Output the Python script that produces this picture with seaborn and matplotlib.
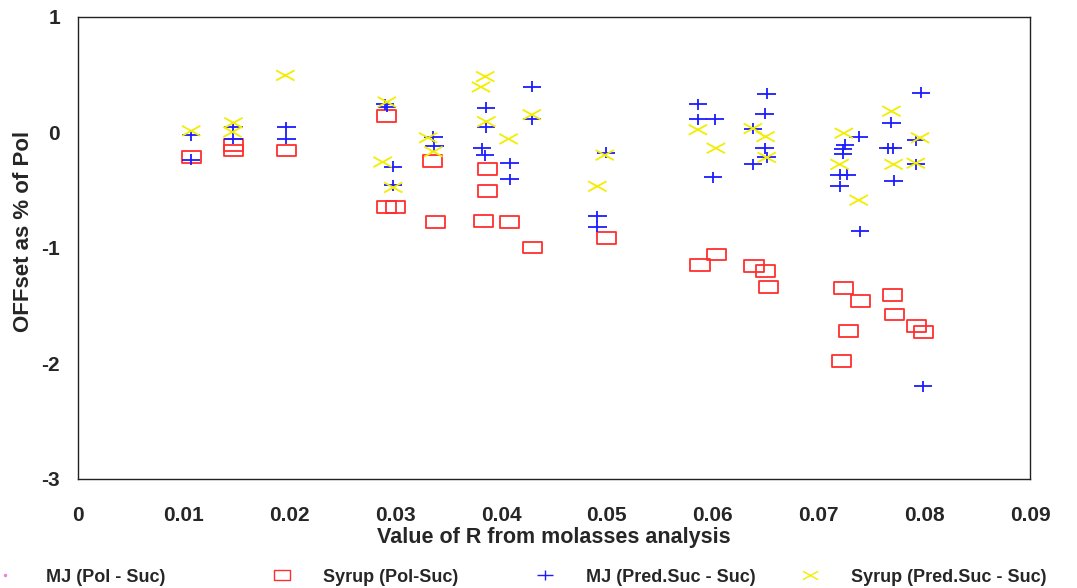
import numpy as np
import pandas as pd
import matplotlib
matplotlib.use("Agg")
import matplotlib.pyplot as plt
from matplotlib.path import Path
from matplotlib.lines import Line2D
import seaborn as sns

# ---- data: offset (% of Pol) against R from molasses analysis ----
mj_pol_x = []
mj_pol_y = []

syrup_pol_x = [0.0107, 0.0147, 0.0147, 0.0197, 0.0292, 0.0292, 0.0300, 0.0335, 0.0338,
               0.0387, 0.0387, 0.0383, 0.0408, 0.0430, 0.0500, 0.0588, 0.0604, 0.0639,
               0.0650, 0.0653, 0.0724, 0.0722, 0.0728, 0.0740, 0.0770, 0.0772, 0.0793,
               0.0799]
syrup_pol_y = [-0.22, -0.11, -0.16, -0.16, 0.14, -0.65, -0.65, -0.25, -0.78,
               -0.32, -0.51, -0.77, -0.78, -1.00, -0.92, -1.15, -1.06, -1.16,
               -1.20, -1.34, -1.35, -1.98, -1.72, -1.46, -1.41, -1.58, -1.68,
               -1.73]

mj_pred_x = [0.0107, 0.0107, 0.0147, 0.0147, 0.0197, 0.0197, 0.0292, 0.0290, 0.0298,
             0.0298, 0.0336, 0.0337, 0.0386, 0.0386, 0.0382, 0.0385, 0.0408, 0.0408,
             0.0429, 0.0429, 0.0499, 0.0491, 0.0491, 0.0586, 0.0586, 0.0602, 0.0600,
             0.0651, 0.0649, 0.0638, 0.0649, 0.0651, 0.0638, 0.0738, 0.0725, 0.0723,
             0.0723, 0.0720, 0.0727, 0.0720, 0.0739, 0.0769, 0.0770, 0.0766, 0.0771,
             0.0797, 0.0792, 0.0792, 0.0799]
mj_pred_y = [-0.03, -0.24, 0.04, -0.06, 0.04, -0.06, 0.22, 0.24, -0.30,
             -0.46, -0.04, -0.12, 0.21, 0.04, -0.14, -0.20, -0.27, -0.41,
             0.39, 0.11, -0.18, -0.73, -0.82, 0.24, 0.11, 0.11, -0.39,
             0.33, 0.16, 0.03, -0.14, -0.22, -0.28, -0.04, -0.11, -0.15,
             -0.19, -0.37, -0.37, -0.47, -0.86, 0.08, -0.14, -0.14, -0.42,
             0.34, -0.07, -0.28, -2.20]

syrup_pred_x = [0.0107, 0.0147, 0.0146, 0.0196, 0.0292, 0.0288, 0.0298, 0.0331, 0.0336,
                0.0385, 0.0381, 0.0386, 0.0407, 0.0429, 0.0498, 0.0491, 0.0586, 0.0603,
                0.0638, 0.0650, 0.0651, 0.0724, 0.0720, 0.0738, 0.0769, 0.0771, 0.0796,
                0.0792]
syrup_pred_y = [0.01, 0.08, 0.00, 0.49, 0.26, -0.26, -0.48, -0.05, -0.17,
                0.48, 0.39, 0.09, -0.06, 0.15, -0.20, -0.47, 0.02, -0.14,
                0.03, -0.04, -0.22, -0.01, -0.28, -0.59, 0.18, -0.28, -0.05,
                -0.27]

series_names = ["MJ (Pol - Suc)", "Syrup (Pol-Suc)", "MJ (Pred.Suc - Suc)",
                "Syrup (Pred.Suc - Suc)"]
x_ticks = [0, 0.01, 0.02, 0.03, 0.04, 0.05, 0.06, 0.07, 0.08, 0.09]
x_tick_labels = ["0", "0.01", "0.02", "0.03", "0.04", "0.05", "0.06", "0.07", "0.08", "0.09"]
y_ticks = [-3, -2, -1, 0, 1]
y_tick_labels = ["-3", "-2", "-1", "0", "1"]

# ---- marker shapes ----
rect_marker = Path([(-1, -0.62), (1, -0.62), (1, 0.62), (-1, 0.62), (-1, -0.62)],
                   [Path.MOVETO, Path.LINETO, Path.LINETO, Path.LINETO, Path.CLOSEPOLY])
plus_marker = Path([(-1, 0), (1, 0), (0, -0.6), (0, 0.6)],
                   [Path.MOVETO, Path.LINETO, Path.MOVETO, Path.LINETO])
cross_marker = Path([(-1, -0.55), (1, 0.55), (-1, 0.55), (1, -0.55)],
                    [Path.MOVETO, Path.LINETO, Path.MOVETO, Path.LINETO])

PINK = "#f080e0"
RED = "#ff2e2e"
BLUE = "#1c1cff"
YELLOW = "#f2ee00"

sns.set_style("white")
plt.rcParams["font.family"] = ["Liberation Sans", "DejaVu Sans"]
plt.rcParams["axes.unicode_minus"] = False

fig = plt.figure(figsize=(10.77, 5.88), dpi=100)
ax = fig.add_axes([0.0724, 0.1862, 0.8840, 0.7857])

specs = [
    (mj_pol_x, mj_pol_y, "o", 2, PINK, 1.0),
    (syrup_pol_x, syrup_pol_y, rect_marker, 190, RED, 1.3),
    (mj_pred_x, mj_pred_y, plus_marker, 175, BLUE, 1.3),
    (syrup_pred_x, syrup_pred_y, cross_marker, 175, YELLOW, 1.3),
]
for (xs, ys, mk, size, col, lw), name in zip(specs, series_names):
    if len(xs) == 0:
        continue
    df = pd.DataFrame({"R": xs, "offset": ys})
    sns.scatterplot(data=df, x="R", y="offset", marker=mk, s=size, ax=ax, legend=False)
    coll = ax.collections[-1]
    coll.set_facecolor("none")
    coll.set_edgecolor(col)
    coll.set_linewidth(lw)

ax.set_xlim(0, 0.09)
ax.set_ylim(-3, 1)
ax.set_xticks(x_ticks)
ax.set_xticklabels(x_tick_labels)
ax.set_yticks(y_ticks)
ax.set_yticklabels(y_tick_labels)
ax.tick_params(axis="x", length=0, pad=20, labelsize=15)
ax.tick_params(axis="y", length=0, pad=13, labelsize=15)
for lab in ax.get_xticklabels() + ax.get_yticklabels():
    lab.set_fontweight("bold")

for side in ["left", "bottom", "top", "right"]:
    ax.spines[side].set_visible(True)
    ax.spines[side].set_color("#222222")
    ax.spines[side].set_linewidth(1.0)

ax.set_xlabel("Value of R from molasses analysis", fontsize=15.5, fontweight="bold")
ax.set_ylabel("OFFset as % of Pol", fontsize=16, fontweight="bold")
ax.xaxis.set_label_coords(0.5, -0.105)
ax.yaxis.set_label_coords(-0.046, 0.535)
ax.xaxis.label.set_va("top")

# ---- legend row below the plot, one evenly spaced entry per series ----
handles = [
    Line2D([], [], linestyle="none", marker="o", markersize=1.5,
           markerfacecolor=PINK, markeredgecolor=PINK),
    Line2D([], [], linestyle="none", marker=rect_marker, markersize=11,
           markerfacecolor="none", markeredgecolor=RED, markeredgewidth=1.0),
    Line2D([], [], linestyle="none", marker=plus_marker, markersize=11,
           markerfacecolor="none", markeredgecolor=BLUE, markeredgewidth=1.0),
    Line2D([], [], linestyle="none", marker=cross_marker, markersize=11,
           markerfacecolor="none", markeredgecolor=YELLOW, markeredgewidth=1.0),
]
marker_px = [5, 282, 545, 810]
font_px = 13 * 100 / 72
for h, name, mx in zip(handles, series_names, marker_px):
    left = (mx - 0.5 * font_px) / 1077
    leg = fig.legend([h], [name], loc="center left",
                     bbox_to_anchor=(left, 1 - 577 / 588),
                     bbox_transform=fig.transFigure,
                     frameon=False, borderpad=0, borderaxespad=0,
                     handlelength=1.0, handletextpad=1.75,
                     prop={"weight": "bold", "size": 13})

fig.savefig("out.png", dpi=100)
